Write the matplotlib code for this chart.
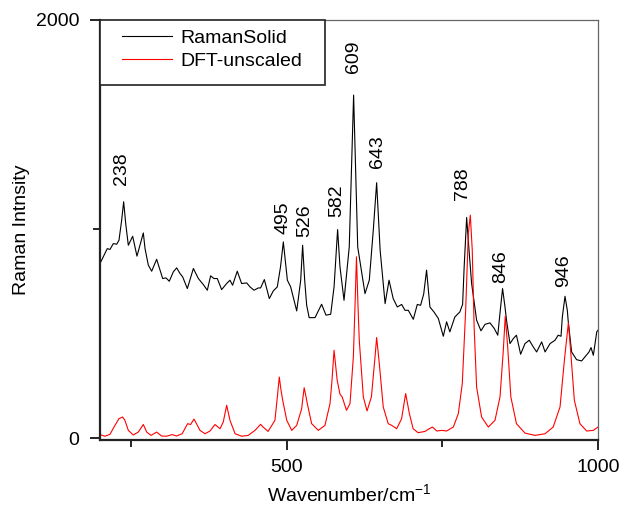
import matplotlib
matplotlib.use("Agg")
import matplotlib.pyplot as plt
from matplotlib.patches import Rectangle

plt.rcParams['font.family'] = ['Liberation Sans', 'DejaVu Sans']
plt.rcParams['mathtext.default'] = 'regular'

# Raman spectrum of the solid
raman_x = [200, 205.3, 211.7, 216, 221.4, 226.8, 230.5, 234.8, 238, 241.3, 245.5,
           252.5, 259.4, 269.6, 272.3, 277.6, 283, 291, 300.7, 306, 311.3,
           317.8, 323.2, 328.5, 332.8, 340.3, 350, 358, 366, 372.4, 377.7,
           383, 388.4, 395.4, 403.4, 408.8, 413, 420.5, 427.5, 435.6, 441,
           447.4, 454.3, 458, 464, 472, 478.4, 484.8, 490, 494.5, 498.8, 501,
           506.3, 516, 522.4, 525.5, 528.8, 532, 536, 545.4, 556, 563, 570.6,
           576, 578, 581.7, 585.5, 592, 600.4, 607.4, 614, 625.7, 632.6, 639,
           644.4, 650, 658, 664.3, 671, 677.6, 684.6, 690, 695.3, 703.3,
           709.7, 715, 720, 724.6, 730, 736.5, 743.5, 751.5, 756.8, 762, 770,
           778, 782.5, 785, 789, 792.8, 797, 805, 812, 818.5, 826.5, 833.4,
           839, 843, 846.7, 850.6, 853, 858.6, 864, 869, 875.7, 882.7, 889.6,
           896, 901.4, 909.5, 915, 923, 931, 936, 940.6, 942.7, 947, 950.7,
           952, 957.6, 965.6, 973.7, 979, 985.6, 988.8, 992.5, 998, 1000]
raman_y = [836, 868, 907, 903, 931, 928, 947, 1043, 1131, 1027, 923,
           966, 871, 982, 908, 828, 799, 856, 764, 767, 751,
           796, 815, 788, 772, 716, 812, 764, 735, 708, 777,
           764, 764, 711, 740, 756, 732, 799, 740, 743, 724,
           708, 719, 719, 759, 668, 705, 724, 820, 939, 820, 756,
           724, 609, 756, 923, 756, 636, 577, 577, 641, 589, 593,
           724, 820, 998, 820, 660, 915, 1641, 915, 692, 756, 995,
           1222, 900, 644, 756, 668, 628, 640, 612, 612, 569,
           640, 636, 690, 804, 628, 604, 573, 488, 557, 509, 580,
           604, 640, 820, 1056, 900, 740, 565, 514, 545, 552, 525,
           493, 612, 716, 628, 565, 453, 477, 493, 402, 453, 469,
           437, 413, 461, 413, 453, 469, 493, 488, 580, 679, 612,
           565, 413, 376, 370, 389, 413, 434, 397, 509, 517]

# DFT unscaled spectrum
dft_x = [200, 208, 216, 224, 230.5, 236.3, 240, 245.5, 253.5, 261.5, 269.6,
         275, 282, 291, 299, 307, 316, 323, 332, 340.7, 345.5, 351, 355,
         360.6, 368.7, 376.7, 384.7, 392.8, 398, 403.5, 408.8, 417, 427.6,
         438, 449, 458, 462, 470, 481, 484.9, 488, 490.8, 493.5, 500, 508,
         516, 524, 525.5, 528, 531, 533, 540, 550.7, 561.4, 569.5, 572.7,
         576, 581, 585.5, 589, 596, 601.6, 607, 609.6, 612, 614.5, 616.5,
         623, 629, 636, 641.8, 644.4, 648.7, 655, 663, 668.5, 676.6, 684.5,
         691, 697, 703, 711, 722, 729, 734, 741, 748.8, 756.8, 767.6, 775.6,
         782, 787.4, 791.7, 794.9, 798, 801, 805, 813, 823.8, 834.5, 842.6,
         847.9, 851, 854.9, 860, 869, 882.7, 898.8, 915, 928, 939, 946,
         952.4, 956, 962, 971, 981.8, 992.5, 1000]
dft_y = [18, 10, 19, 62, 94, 102, 86, 38, 16, 30, 66,
         30, 14, 30, 11, 10, 18, 11, 22, 70, 66, 92, 70,
         38, 22, 35, 66, 46, 78, 158, 86, 22, 10,
         14, 38, 67, 54, 33, 86, 198, 293, 230, 182, 86, 38,
         62, 142, 182, 242, 198, 166, 70, 38, 62, 166, 278,
         421, 278, 211, 198, 134, 166, 389, 628, 868, 628, 469,
         198, 131, 198, 389, 482, 357, 150, 70, 62, 46, 94,
         214, 118, 46, 27, 33, 46, 54, 35, 38, 35, 54, 118,
         262, 612, 979, 1067, 900, 533, 245, 102, 54, 86, 198,
         421, 584, 437, 198, 70, 25, 14, 22, 54, 150, 373,
         552, 421, 182, 70, 35, 38, 54]

# peak annotations: wavenumber label, x position, y of text base
peak_labels = ["238", "495", "526", "582", "609", "643", "788", "846", "946"]
peak_x = [235, 494, 529, 580, 607, 646, 782, 843, 944]
peak_y = [1210, 976, 963, 1059, 1748, 1292, 1139, 743, 722]

fig = plt.figure(figsize=(6.21, 5.07), dpi=100)
ax = fig.add_axes([100 / 621, 67 / 507, 498 / 621, 420 / 507])

ax.plot(raman_x, raman_y, color='black', lw=0.8, label='RamanSolid')
ax.plot(dft_x, dft_y, color='red', lw=0.8, label='DFT-unscaled')

for lab, px, py in zip(peak_labels, peak_x, peak_y):
    ax.text(px, py, lab, rotation=90, ha='center', va='bottom', fontsize=14)

ax.set_xlim(200, 1000)
ax.set_ylim(-8, 2000)
ax.set_xticks([500, 1000])
ax.set_xticks([250, 750], minor=True)
ax.set_yticks([0, 2000])
ax.set_yticks([1000], minor=True)
ax.tick_params(which='both', direction='out', labelsize=14, width=1.2)
ax.tick_params(axis='x', which='major', length=7, pad=7)
ax.tick_params(axis='y', which='major', length=7, pad=8)
ax.tick_params(which='minor', length=5)

for s in ['left', 'bottom']:
    ax.spines[s].set_linewidth(1.6)
    ax.spines[s].set_color('#222222')
for s in ['top', 'right']:
    ax.spines[s].set_linewidth(0.9)
    ax.spines[s].set_color('#666666')

ax.set_xlabel('Wavenumber/cm$^{-1}$', fontsize=14, labelpad=5)
ax.set_ylabel('Raman Intnsity', fontsize=14, labelpad=4)

# legend box drawn by hand so the padding matches
box = Rectangle((0, 0.845), 0.452, 0.155, transform=ax.transAxes,
                facecolor='white', edgecolor='#222222', lw=1.2, zorder=3,
                clip_on=False)
ax.add_patch(box)
leg = ax.legend(loc='upper left', bbox_to_anchor=(0.044, 0.977), frameon=False,
                borderpad=0, borderaxespad=0, handlelength=2.6,
                handletextpad=0.4, labelspacing=0.25, fontsize=14)
leg.set_zorder(4)

fig.savefig('out.png', dpi=100)
